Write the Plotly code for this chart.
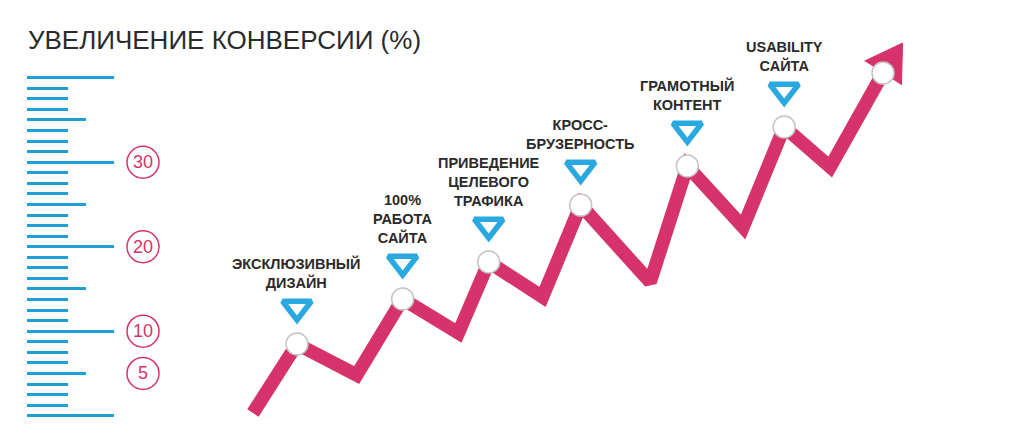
import numpy as np
import plotly.graph_objects as go

# ---------------- data ----------------
title_text = "УВЕЛИЧЕНИЕ КОНВЕРСИИ (%)"

# zig-zag path: stage position (x) and conversion growth, % (y)
path_x = [0.56, 1.01, 1.62, 2.09, 2.66, 2.97, 3.52, 3.91, 4.62, 5.00, 5.57, 5.99, 6.46, 7.00]
path_y = [0.32, 8.49, 4.82, 13.81, 9.79, 18.19, 14.05, 24.93, 15.82, 29.55, 22.33, 34.17, 29.43, 40.55]

# arrow tip at the end of the path
arrow_tip_x = 7.20
arrow_tip_y = 44.1

# milestones (peaks of the path)
milestone_index = [1, 3, 5, 7, 9, 11, 13]
milestone_labels = [
    "ЭКСКЛЮЗИВНЫЙ<br>ДИЗАЙН",
    "100%<br>РАБОТА<br>САЙТА",
    "ПРИВЕДЕНИЕ<br>ЦЕЛЕВОГО<br>ТРАФИКА",
    "КРОСС-<br>БРУЗЕРНОСТЬ",
    "ГРАМОТНЫЙ<br>КОНТЕНТ",
    "USABILITY<br>САЙТА",
    "",
]
milestone_has_pointer = [True, True, True, True, True, True, False]

# ruler scale
scale_labels = [30, 20, 10, 5]
major_ticks = [0, 10, 20, 30, 40]
mid_ticks = [5, 15, 25, 35]
minor_ticks = [v for v in np.arange(0, 40.001, 1.25) if v % 5 != 0]

# ---------------- styles ----------------
PINK = "#d6336c"
BLUE = "#1ea0d6"
TRI_BLUE = "#29a9e0"
TEXT = "#2a2a2a"
FONT = "Arial, Liberation Sans, sans-serif"

W, H = 1024, 443
X_RANGE = [-2.0256, 8.4412]
Y_RANGE = [-3.23, 49.2]
PX_PER_X = W / (X_RANGE[1] - X_RANGE[0])
PX_PER_Y = H / (Y_RANGE[1] - Y_RANGE[0])
RULER_X = 26 / W
CIRCLE_X = 143 / W
HEAD_HALF_WIDTH_PX = 22

mx = [path_x[i] for i in milestone_index]
my = [path_y[i] for i in milestone_index]

# arrow head geometry: base centred on the last path point, tip at arrow_tip
bx, by = path_x[-1], path_y[-1]
dx_px = (arrow_tip_x - bx) * PX_PER_X
dy_px = (arrow_tip_y - by) * PX_PER_Y
L = (dx_px ** 2 + dy_px ** 2) ** 0.5
nx, ny = -dy_px / L, dx_px / L
head_x = [bx + nx * HEAD_HALF_WIDTH_PX / PX_PER_X, arrow_tip_x,
          bx - nx * HEAD_HALF_WIDTH_PX / PX_PER_X]
head_y = [by + ny * HEAD_HALF_WIDTH_PX / PX_PER_Y, arrow_tip_y,
          by - ny * HEAD_HALF_WIDTH_PX / PX_PER_Y]

fig = go.Figure()

# main path
fig.add_trace(go.Scatter(
    x=path_x, y=path_y, mode="lines",
    line=dict(color=PINK, width=13.5),
    hoverinfo="skip", showlegend=False,
))

# arrow head
fig.add_trace(go.Scatter(
    x=head_x, y=head_y, mode="lines", fill="toself", fillcolor=PINK,
    line=dict(color=PINK, width=1),
    hoverinfo="skip", showlegend=False,
))

# blue pointer triangles above milestones
tri_offset = 36.5 / PX_PER_Y
fig.add_trace(go.Scatter(
    x=[x for x, p in zip(mx, milestone_has_pointer) if p],
    y=[y + tri_offset for y, p in zip(my, milestone_has_pointer) if p],
    mode="markers",
    marker=dict(symbol="triangle-down-open", size=25, color=TRI_BLUE,
                line=dict(color=TRI_BLUE, width=5.5)),
    hoverinfo="skip", showlegend=False,
))

# dummy trace so the overlaying ruler axis is rendered
fig.add_trace(go.Scatter(
    x=[path_x[0]], y=[path_y[0]], yaxis="y2", mode="markers",
    marker=dict(opacity=0), hoverinfo="skip", showlegend=False,
))

# white milestone dots
fig.add_trace(go.Scatter(
    x=mx, y=my, mode="markers",
    marker=dict(symbol="circle", size=22, color="#ffffff",
                line=dict(color="#c4c4c4", width=1.5)),
    hoverinfo="skip", showlegend=False,
))

# milestone labels
for x, y, lab in zip(mx, my, milestone_labels):
    if not lab:
        continue
    fig.add_annotation(
        x=x, y=y, xref="x", yref="y", text=lab, showarrow=False,
        yanchor="bottom", xanchor="center", yshift=51, align="center",
        font=dict(family=FONT, size=14.5, color=TEXT, weight=700),
    )

# circled scale labels
for v in scale_labels:
    fig.add_shape(
        type="circle", xref="paper", yref="y",
        xsizemode="pixel", ysizemode="pixel",
        xanchor=CIRCLE_X, yanchor=v, x0=-16, x1=16, y0=-16, y1=16,
        line=dict(color=PINK, width=1.5), fillcolor="rgba(0,0,0,0)",
    )
    fig.add_annotation(
        x=CIRCLE_X, y=v, xref="paper", yref="y", text=str(v), showarrow=False,
        xanchor="center", yanchor="middle",
        font=dict(family=FONT, size=18, color=PINK),
    )

# title
fig.add_annotation(
    x=RULER_X, y=1 - 40 / H, xref="paper", yref="paper", text=title_text,
    showarrow=False, xanchor="left", yanchor="middle",
    font=dict(family=FONT, size=26, color=TEXT),
)

common_y = dict(
    range=Y_RANGE, anchor="free", position=RULER_X, side="left",
    showticklabels=False, showgrid=False, zeroline=False, showline=False,
    ticks="inside", tickwidth=3, tickcolor=BLUE, tickmode="array",
)

fig.update_layout(
    width=W, height=H,
    margin=dict(l=0, r=0, t=0, b=0),
    paper_bgcolor="#ffffff", plot_bgcolor="#ffffff",
    xaxis=dict(range=X_RANGE, visible=False),
    yaxis=dict(
        **common_y, tickvals=major_ticks, ticklen=87,
        minor=dict(ticks="inside", tickmode="array", tickvals=minor_ticks,
                   ticklen=41, tickwidth=3, tickcolor=BLUE, showgrid=False),
    ),
    yaxis2=dict(**common_y, overlaying="y", tickvals=mid_ticks, ticklen=59),
    showlegend=False,
)

fig.write_html("out.html", config={"displayModeBar": False},
               post_script="document.body.style.margin='0';")
